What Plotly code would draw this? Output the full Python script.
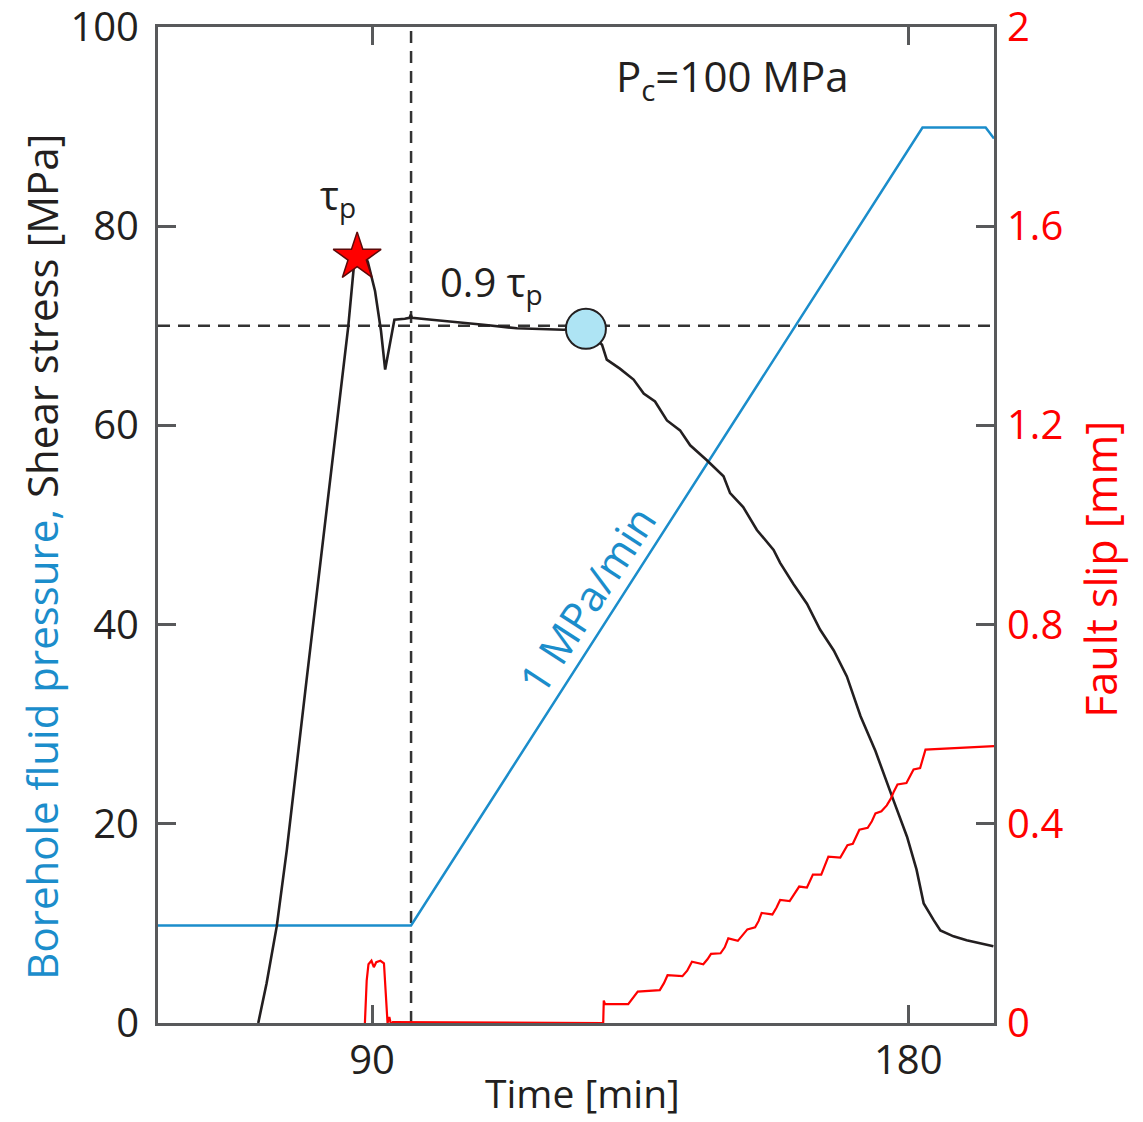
import plotly.graph_objects as go

# ---------------- data ----------------
# Borehole fluid pressure [MPa]
pressure_t = [50.0, 96.55, 182.4, 193.0, 194.4]
pressure_mpa = [9.8, 9.8, 89.9, 89.9, 88.8]

# Shear stress [MPa]
shear_t = [70.9, 72.3, 74.0, 75.7, 79.0, 86.0, 87.0, 87.6, 88.4, 89.3, 90.5, 91.5, 92.2,
           93.75, 95.5, 96.3, 96.5, 96.7, 100.0, 103.1, 108.7, 114.3, 122.1, 125.9,
           128.6, 129.4, 131.6, 133.9, 135.6, 137.5, 139.5, 141.7, 143.4, 146.2, 149.0,
           150.1, 152.3, 154.6, 157.4, 158.5, 160.7, 163.0, 165.2, 167.5, 169.7, 172.0,
           174.5, 177.5, 179.8, 181.4, 182.6, 184.3, 185.4, 187.6, 189.8, 194.3]
shear_mpa = [0.0, 4.0, 9.7, 17.4, 34.4, 69.9, 76.3, 77.8, 77.6, 76.4, 73.5, 69.5, 65.6,
             70.6, 70.7, 70.8, 71.1, 70.8, 70.6, 70.4, 70.1, 69.75, 69.6, 69.7,
             68.1, 66.6, 65.7, 64.6, 63.2, 62.4, 60.5, 59.5, 58.0, 56.5, 54.9,
             53.2, 51.8, 49.5, 47.5, 46.2, 44.1, 42.1, 39.5, 37.4, 34.8, 30.8,
             27.3, 22.4, 18.7, 15.4, 12.0, 10.3, 9.3, 8.7, 8.3, 7.7]

# Fault slip [mm]
slip_t = [88.8, 89.1, 89.4, 89.9, 90.3, 90.7, 91.4, 92.0, 92.3, 92.6, 92.9, 93.2, 93.5,
          128.8, 128.9, 129.1, 133.0, 133.8, 134.6, 138.3, 139.0, 139.6, 142.1, 142.9,
          143.7, 145.6, 146.3, 146.9, 148.5, 149.2, 149.8, 151.4, 152.3, 153.0, 154.3,
          154.9, 155.4, 157.2, 157.9, 158.5, 160.1, 161.0, 161.7, 163.0, 163.5, 164.0,
          165.4, 166.0, 166.6, 168.6, 169.2, 169.8, 170.7, 171.3, 171.8, 173.2, 173.9,
          174.5, 175.5, 176.4, 177.1, 177.6, 178.2, 179.7, 180.3, 180.9, 182.0, 182.5,
          182.9, 194.4]
slip_mm = [0.0, 0.085, 0.118, 0.125, 0.112, 0.122, 0.125, 0.12, 0.06, 0.0, 0.012, -0.004, 0.002,
           0.0, 0.045, 0.038, 0.038, 0.05, 0.063, 0.066, 0.08, 0.096, 0.094, 0.105,
           0.123, 0.118, 0.128, 0.139, 0.14, 0.152, 0.170, 0.165, 0.178, 0.188, 0.192,
           0.205, 0.221, 0.218, 0.232, 0.247, 0.245, 0.26, 0.274, 0.272, 0.285, 0.298,
           0.298, 0.315, 0.334, 0.332, 0.345, 0.357, 0.36, 0.375, 0.388, 0.392, 0.405,
           0.421, 0.425, 0.437, 0.451, 0.465, 0.479, 0.482, 0.495, 0.509, 0.512, 0.53,
           0.549, 0.556]

# key points
peak_t, peak_tau = [87.5], [76.9]          # tau_p (star)
onset_t, onset_tau = [125.9], [69.7]       # 0.9 tau_p (circle)
ramp_start_t = 96.55                        # start of pressure ramp (vertical dashed)
tau_09 = 70.0                               # 0.9 tau_p level (horizontal dashed)

x_range = [54.07, 194.4]
x_ticks = [90, 180]
y_ticks = [0, 20, 40, 60, 80, 100]
y2_ticks = [0, 0.4, 0.8, 1.2, 1.6, 2]
y2_ticktext = ["0", "0.4", "0.8", "1.2", "1.6", "2"]

# ---------------- style ----------------
BLUE = "#1b8dcb"
RED = "#ff0000"
BLACK = "#231f20"
AXIS = "#58595b"
FONT = "Open Sans"

fig = go.Figure()
fig.add_trace(go.Scatter(x=pressure_t, y=pressure_mpa, mode="lines",
                         line=dict(color=BLUE, width=2.5), hoverinfo="skip"))
fig.add_trace(go.Scatter(x=shear_t, y=shear_mpa, mode="lines",
                         line=dict(color=BLACK, width=2.6), hoverinfo="skip"))
fig.add_trace(go.Scatter(x=peak_t, y=peak_tau, mode="markers", cliponaxis=False,
                         marker=dict(symbol="star", size=36, color=RED,
                                     line=dict(color="#5c0a0a", width=1.5)),
                         hoverinfo="skip"))
fig.add_trace(go.Scatter(x=onset_t, y=onset_tau, mode="markers", cliponaxis=False,
                         marker=dict(symbol="circle", size=40, color="#aee4f4",
                                     line=dict(color=BLACK, width=2)),
                         hoverinfo="skip"))
fig.add_trace(go.Scatter(x=slip_t, y=slip_mm, yaxis="y2", mode="lines",
                         line=dict(color=RED, width=2.2), hoverinfo="skip"))

axis_common = dict(ticks="inside", ticklen=18, tickwidth=3, tickcolor=AXIS,
                   showline=True, linewidth=3, linecolor=AXIS, automargin=False,
                   showgrid=False, zeroline=False, ticklabeloverflow="allow")

fig.update_layout(
    width=1143, height=1122,
    margin=dict(l=158, r=149, t=27, b=99, autoexpand=False),
    paper_bgcolor="white", plot_bgcolor="white",
    font=dict(family=FONT, size=40, color=BLACK),
    showlegend=False,
    xaxis=dict(range=x_range, tickvals=x_ticks, mirror="ticks",
               tickfont=dict(family=FONT, size=40, color=BLACK),
               layer="below traces", **axis_common),
    yaxis=dict(range=[0, 100], tickvals=y_ticks, ticklabelstandoff=8,
               tickfont=dict(family=FONT, size=40, color=BLACK),
               layer="below traces", **axis_common),
    yaxis2=dict(range=[0, 2], overlaying="y", side="right", tickvals=y2_ticks,
                ticktext=y2_ticktext, ticklabelstandoff=2,
                tickfont=dict(family=FONT, size=40, color=RED),
                layer="below traces", **axis_common),
    shapes=[
        dict(type="line", xref="x", yref="paper", x0=ramp_start_t, x1=ramp_start_t,
             y0=0, y1=1, layer="below",
             line=dict(color="#333333", width=2.5, dash="12px,8px")),
        dict(type="line", xref="paper", yref="y", x0=0, x1=1, y0=tau_09, y1=tau_09,
             layer="below", line=dict(color="#333333", width=2.5, dash="12px,8px")),
    ],
    annotations=[
        dict(x=84.3, y=83.0, xref="x", yref="y", text="τ<sub>p</sub>", showarrow=False,
             font=dict(family=FONT, size=40, color=BLACK)),
        dict(x=110.1, y=74.2, xref="x", yref="y", text="0.9 τ<sub>p</sub>", showarrow=False,
             font=dict(family=FONT, size=40, color=BLACK)),
        dict(x=150.5, y=94.8, xref="x", yref="y", text="P<sub>c</sub>=100 MPa", showarrow=False,
             font=dict(family=FONT, size=42, color=BLACK)),
        dict(x=126.0, y=42.5, xref="x", yref="y", text="1 MPa/min", showarrow=False,
             textangle=-57, font=dict(family=FONT, size=42, color=BLUE)),
        dict(x=0.508, y=-0.0984, xref="paper", yref="paper", text="Time [min]", showarrow=False,
             xanchor="center", yanchor="bottom", font=dict(family=FONT, size=39, color=BLACK)),
        dict(x=-0.139, y=0.468, xref="paper", yref="paper", textangle=-90, showarrow=False,
             xanchor="center", yanchor="middle",
             text=f"<span style='color:{BLUE}'>Borehole fluid pressure,</span> Shear stress [MPa]",
             font=dict(family=FONT, size=42, color=BLACK)),
        dict(x=1.128, y=0.455, xref="paper", yref="paper", textangle=-90, showarrow=False,
             xanchor="center", yanchor="middle", text="Fault slip [mm]",
             font=dict(family=FONT, size=43, color=RED)),
    ],
)

fig.write_html("out.html")
